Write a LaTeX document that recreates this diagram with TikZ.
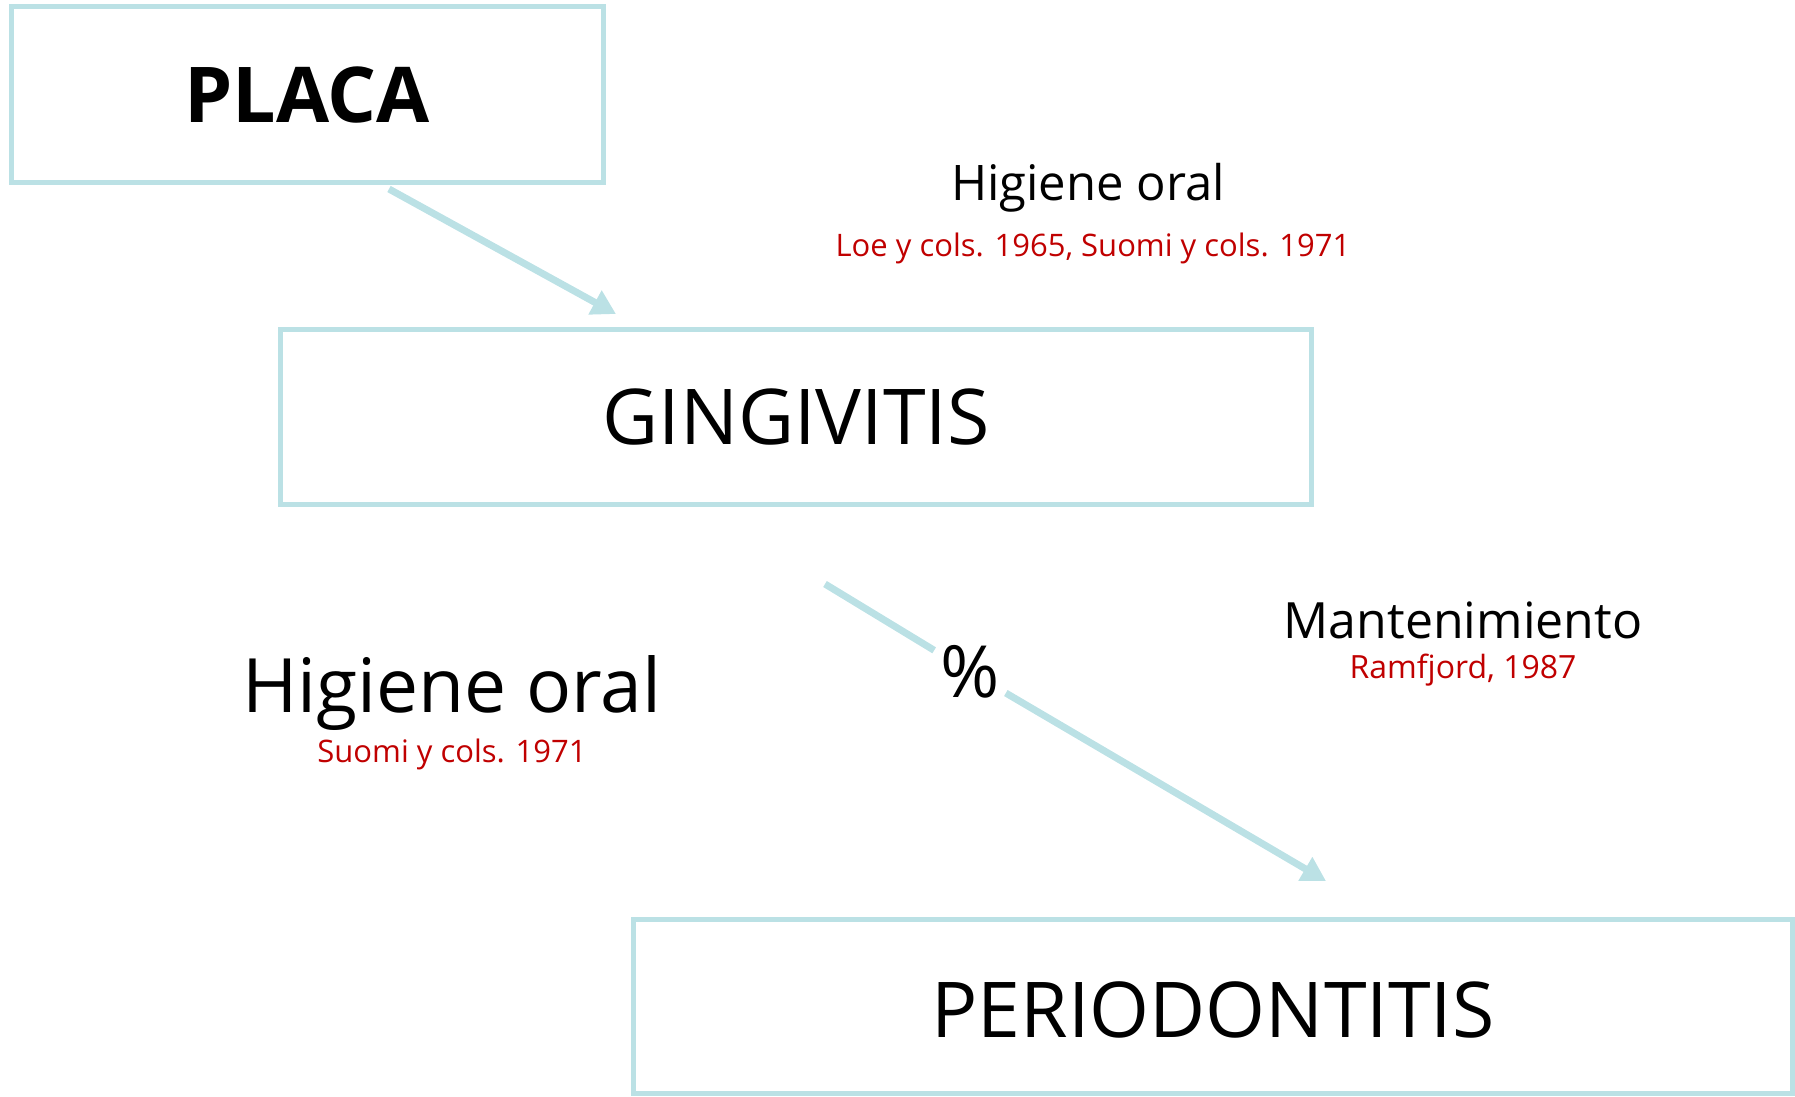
\documentclass[tikz,border=0pt]{standalone}
\usepackage{fontspec}
\setmainfont{Open Sans}
\usetikzlibrary{arrows.meta}
\definecolor{boxblue}{RGB}{187,225,229}
\definecolor{citered}{RGB}{192,0,0}
\tikzstyle{box} = [rectangle, 
draw=boxblue, 
line width=5pt, 
text centered]
\tikzstyle{title} = [inner sep=0pt, 
anchor=base, 
font=\fontsize{77}{90}\selectfont]
\tikzstyle{label} = [inner sep=0pt, 
anchor=base, 
font=\fontsize{50}{60}\selectfont]
\tikzstyle{cite} = [inner sep=0pt, 
anchor=base, 
text=citered, 
font=\fontsize{31}{37}\selectfont]
\tikzstyle{link} = [draw=boxblue, line width=7pt]
\tikzstyle{arrow} = [link, -{Triangle[length=24pt,width=26pt]}]

\begin{document}
\begin{tikzpicture}[x=1pt, y=-1pt]
\useasboundingbox (0,0) rectangle (1795,1096);

\node (placa) [box, minimum width=592pt, minimum height=176pt] at (307,94) {};
\node (gingivitis) [box, minimum width=1031pt, minimum height=175pt] at (795.5,416.5) {};
\node (periodontitis) [box, minimum width=1159pt, minimum height=174pt] at (1212.5,1006) {};

\node (placa_txt) [title, font=\fontsize{77}{90}\selectfont\bfseries] at (307,122.5) {PLACA};
\node (gingivitis_txt) [title] at (796,444) {GINGIVITIS};
\node (periodontitis_txt) [title] at (1213,1037) {PERIODONTITIS};

\node (hig_top) [label, font=\fontsize{49}{59}\selectfont] at (1088,200) {Higiene oral};
\node (hig_top_cite) [cite] at (1093,256) {Loe y cols. 1965, Suomi y cols. 1971};
\node (hig_left) [label, font=\fontsize{75}{90}\selectfont] at (452,712) {Higiene oral};
\node (hig_left_cite) [cite] at (452,762) {Suomi y cols. 1971};
\node (mant) [label] at (1463,638) {Mantenimiento};
\node (mant_cite) [cite, font=\fontsize{32}{38}\selectfont] at (1463,678) {Ramfjord, 1987};

\node (pct) [font=\fontsize{72}{86}\selectfont, inner sep=6pt] at (970,672) {\%};

% arrow ends
\coordinate (placa_out) at (389,189);
\coordinate (gingivitis_in) at (616,314);
\coordinate (gingivitis_out) at (825,584);
\coordinate (periodontitis_in) at (1326,881);

\draw [arrow] (placa_out) -- (gingivitis_in);
\draw [link] (gingivitis_out) -- (pct);
\draw [arrow] (pct) -- (periodontitis_in);

\end{tikzpicture}
\end{document}
